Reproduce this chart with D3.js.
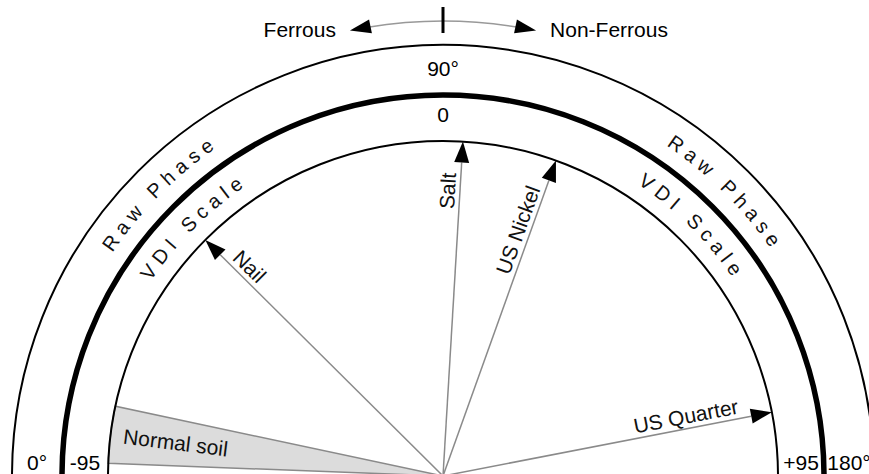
<!DOCTYPE html>
<html>
<head>
<meta charset="utf-8">
<script src="https://cdn.jsdelivr.net/npm/d3@7"></script>
<style>
  body { margin: 0; background: #fff; }
  svg { display: block; font-family: "Liberation Sans", Arial, sans-serif; }
</style>
</head>
<body>
<svg id="dial" width="869" height="474"></svg>
<script>
// VDI scale runs -95 (left, raw phase 0°) to +95 (right, raw phase 180°)
const vdiDomain = [-95, 95]
const vdiTicks = ['-95', '0', '+95']
const phaseTicks = ['0°', '90°', '180°']
const scaleNames = ['Raw Phase', 'VDI Scale']
const directionNames = ['Ferrous', 'Non-Ferrous']

// targets, in VDI units
const targets = ['Nail', 'Salt', 'US Nickel', 'US Quarter']
const targetVdi = [-47.7, 3.6, 20.8, 83.4]

const soilName = 'Normal soil'
const soilVdi = [-92.7, -82.3]

const svg = d3.select('#dial')
const cx = 443
const cy = 476
const rOuter = 431
const rMid = 381
const rInner = 335
const rArrow = 455
const fontSize = 21

// d3 angle convention: 0 at top, clockwise
const angle = d3.scaleLinear().domain(vdiDomain).range([-Math.PI / 2, Math.PI / 2])

const g = svg.append('g').attr('transform', `translate(${cx},${cy})`)

const arcPath = r => {
    const p = d3.path()
    p.arc(0, 0, r, Math.PI, 2 * Math.PI, false)
    return p.toString()
}

const arrowHead = (tip, dir, len, half) => {
    const bx = tip[0] - dir[0] * len
    const by = tip[1] - dir[1] * len
    const px = -dir[1], py = dir[0]
    return `M${tip[0]},${tip[1]}L${bx + px * half},${by + py * half}L${bx - px * half},${by - py * half}Z`
}

// normal soil wedge
g.append('path')
    .attr('d', d3.arc()({
        innerRadius: 0,
        outerRadius: rInner,
        startAngle: angle(soilVdi[0]),
        endAngle: angle(soilVdi[1])
    }))
    .attr('fill', '#dcdcdc')
    .attr('stroke', '#8a8a8a')
    .attr('stroke-width', 1.5)

const soilMid = angle((soilVdi[0] + soilVdi[1]) / 2)
const soilPos = d3.pointRadial(soilMid, 322)
g.append('text')
    .attr('transform', `translate(${soilPos}) rotate(${soilMid * 180 / Math.PI + 90})`)
    .attr('dy', '0.35em')
    .attr('font-size', fontSize)
    .attr('fill', '#111')
    .text(soilName)

// scale arcs
g.selectAll('path.ring')
    .data([[rOuter, 2], [rMid, 5.5], [rInner, 2]])
    .enter()
    .append('path')
    .attr('class', 'ring')
    .attr('d', d => arcPath(d[0]))
    .attr('fill', 'none')
    .attr('stroke', '#000')
    .attr('stroke-width', d => d[1])

// curved scale names
const textRadii = [(rOuter + rMid) / 2 - 7, (rMid + rInner) / 2 - 7]
scaleNames.forEach((name, i) => {
    const id = `ring-text-${i}`
    g.append('path')
        .attr('id', id)
        .attr('d', arcPath(textRadii[i]))
        .attr('fill', 'none')
    ;['25%', '75%'].forEach(off => {
        g.append('text')
            .attr('font-size', 20)
            .attr('letter-spacing', 5.6)
            .attr('fill', '#111')
            .append('textPath')
            .attr('href', `#${id}`)
            .attr('startOffset', off)
            .attr('text-anchor', 'middle')
            .text(name)
    })
})

// top labels
g.append('text')
    .attr('x', 0)
    .attr('y', -(rOuter + rMid) / 2)
    .attr('dy', '0.28em')
    .attr('text-anchor', 'middle')
    .attr('font-size', fontSize)
    .text(phaseTicks[1])

g.append('text')
    .attr('x', 0)
    .attr('y', -(rMid + rInner) / 2)
    .attr('dy', '0.2em')
    .attr('text-anchor', 'middle')
    .attr('font-size', fontSize)
    .text(vdiTicks[1])

// bottom end labels
const ends = [
    [phaseTicks[0], -(rOuter + rMid) / 2],
    [vdiTicks[0], -(rMid + rInner) / 2],
    [vdiTicks[2], (rMid + rInner) / 2],
    [phaseTicks[2], (rOuter + rMid) / 2]
]
g.selectAll('text.end')
    .data(ends)
    .enter()
    .append('text')
    .attr('class', 'end')
    .attr('x', d => d[1])
    .attr('y', -6)
    .attr('text-anchor', 'middle')
    .attr('font-size', fontSize)
    .text(d => d[0])

// target rays
const arrowLen = 21
const arrowHalf = 7.5
targets.forEach((name, i) => {
    const a = angle(targetVdi[i])
    const dir = d3.pointRadial(a, 1)
    const tip = d3.pointRadial(a, rInner)
    const base = d3.pointRadial(a, rInner - arrowLen)

    g.append('line')
        .attr('x1', 0).attr('y1', 0)
        .attr('x2', base[0]).attr('y2', base[1])
        .attr('stroke', '#8a8a8a')
        .attr('stroke-width', 1.5)

    g.append('path')
        .attr('d', arrowHead(tip, dir, arrowLen, arrowHalf))
        .attr('fill', '#000')

    const deg = a * 180 / Math.PI
    const left = a < 0
    const pos = d3.pointRadial(a, rInner - 32)
    g.append('text')
        .attr('transform', `translate(${pos}) rotate(${left ? deg + 90 : deg - 90})`)
        .attr('y', -5)
        .attr('text-anchor', left ? 'start' : 'end')
        .attr('font-size', fontSize)
        .attr('fill', '#111')
        .text(name)
})

// ferrous / non-ferrous arrow
const span = 0.206
const topArc = d3.path()
topArc.arc(0, 0, rArrow, -Math.PI / 2 - span + 0.04, -Math.PI / 2 + span - 0.04, false)
g.append('path')
    .attr('d', topArc.toString())
    .attr('fill', 'none')
    .attr('stroke', '#999')
    .attr('stroke-width', 1.5)

;[-span, span].forEach(s => {
    const tip = d3.pointRadial(s, rArrow)
    const dir = s < 0 ? [-Math.cos(s), -Math.sin(s)] : [Math.cos(s), Math.sin(s)]
    g.append('path')
        .attr('d', arrowHead(tip, dir, 21, 7))
        .attr('fill', '#000')
})

g.append('line')
    .attr('x1', 0).attr('y1', -rArrow - 14)
    .attr('x2', 0).attr('y2', -rArrow + 12)
    .attr('stroke', '#000')
    .attr('stroke-width', 3)

directionNames.forEach((name, i) => {
    const s = i === 0 ? -span : span
    const tip = d3.pointRadial(s, rArrow)
    g.append('text')
        .attr('x', tip[0] + (i === 0 ? -14 : 14))
        .attr('y', tip[1])
        .attr('dy', '0.32em')
        .attr('text-anchor', i === 0 ? 'end' : 'start')
        .attr('font-size', fontSize)
        .text(name)
})
</script>
</body>
</html>
